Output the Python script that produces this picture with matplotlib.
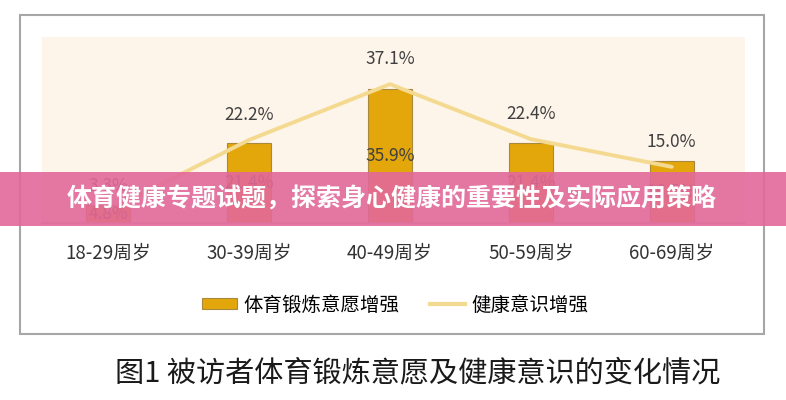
import matplotlib.pyplot as plt
from matplotlib.patches import Rectangle
from matplotlib.lines import Line2D

plt.rcParams['font.family'] = ['Noto Sans CJK SC', 'DejaVu Sans']

# data
categories = ["18-29周岁", "30-39周岁", "40-49周岁", "50-59周岁", "60-69周岁"]
exercise = [4.8, 21.4, 35.9, 21.4, 16.5]   # 体育锻炼意愿增强 (first one hidden, estimated)
health = [3.3, 22.2, 37.1, 22.4, 15.0]     # 健康意识增强
bar_name = "体育锻炼意愿增强"
line_name = "健康意识增强"
banner_text = "体育健康专题试题，探索身心健康的重要性及实际应用策略"
caption = "图1 被访者体育锻炼意愿及健康意识的变化情况"

W, H = 786, 400
fig = plt.figure(figsize=(W / 100, H / 100), dpi=100)
fig.patch.set_facecolor("white")


def px(x0, y0, x1, y1):
    # pixel box (top-left origin) -> figure fraction rect
    return [x0 / W, 1 - y1 / H, (x1 - x0) / W, (y1 - y0) / H]


ax = fig.add_axes(px(42, 37, 745, 223))
ax.set_facecolor("#FDF4EA")

x = list(range(len(categories)))
bars = ax.bar(x, exercise, width=0.31, color="#E3A70C", edgecolor="#A8893E",
              linewidth=0.8, zorder=2)
ax.plot(x, health, color="#F4DA90", linewidth=2.8, solid_capstyle="round", zorder=3)

for xi, v in zip(x, exercise):
    ax.text(xi, v / 2, f"{v:.1f}%", ha="center", va="center", fontsize=12.5,
            color="#404040", zorder=4)
for xi, v in zip(x, health):
    ax.annotate(f"{v:.1f}%", (xi, v), xytext=(0, 18), textcoords="offset points",
                ha="center", va="center", fontsize=12.5, color="#404040", zorder=4)

ax.set_xlim(-0.47, 4.52)
ax.set_ylim(0, 49.7)
ax.set_yticks([])
ax.set_xticks(x)
ax.set_xticklabels(categories, fontsize=13.5, color="#333333")
ax.tick_params(axis="x", length=0, pad=14)
for s in ["top", "left", "right"]:
    ax.spines[s].set_visible(False)
ax.spines["bottom"].set_color("#BFBFBF")
ax.spines["bottom"].set_linewidth(1.2)

# legend
handles = [Rectangle((0, 0), 1, 1, facecolor="#E3A70C", edgecolor="#A8893E", linewidth=0.8),
           Line2D([0], [0], color="#F4DA90", linewidth=3)]
fig.legend(handles, [bar_name, line_name], loc="center", ncol=2, frameon=False,
           bbox_to_anchor=(395 / W, 1 - 305 / H), fontsize=14, handlelength=1.8,
           handleheight=0.55, columnspacing=1.6, handletextpad=0.3)

# outer box
fig.add_artist(Rectangle((20 / W, 1 - 334 / H), 744 / W, 319 / H, transform=fig.transFigure,
                         fill=False, edgecolor="#A6A6A6", linewidth=1.5))

# caption
fig.text(418 / W, 1 - 373 / H, caption, ha="center", va="center", fontsize=21,
         color="#1A1A1A")

# banner overlay
fig.add_artist(Rectangle((0, 1 - 226 / H), 1, 54 / H, transform=fig.transFigure,
                         facecolor="#E2689A", alpha=0.9, edgecolor="none", zorder=10))
fig.text(392 / W, 1 - 199 / H, banner_text, ha="center", va="center", fontsize=18,
         fontweight="bold", color="white", zorder=11)

fig.savefig("out.png", dpi=100)
